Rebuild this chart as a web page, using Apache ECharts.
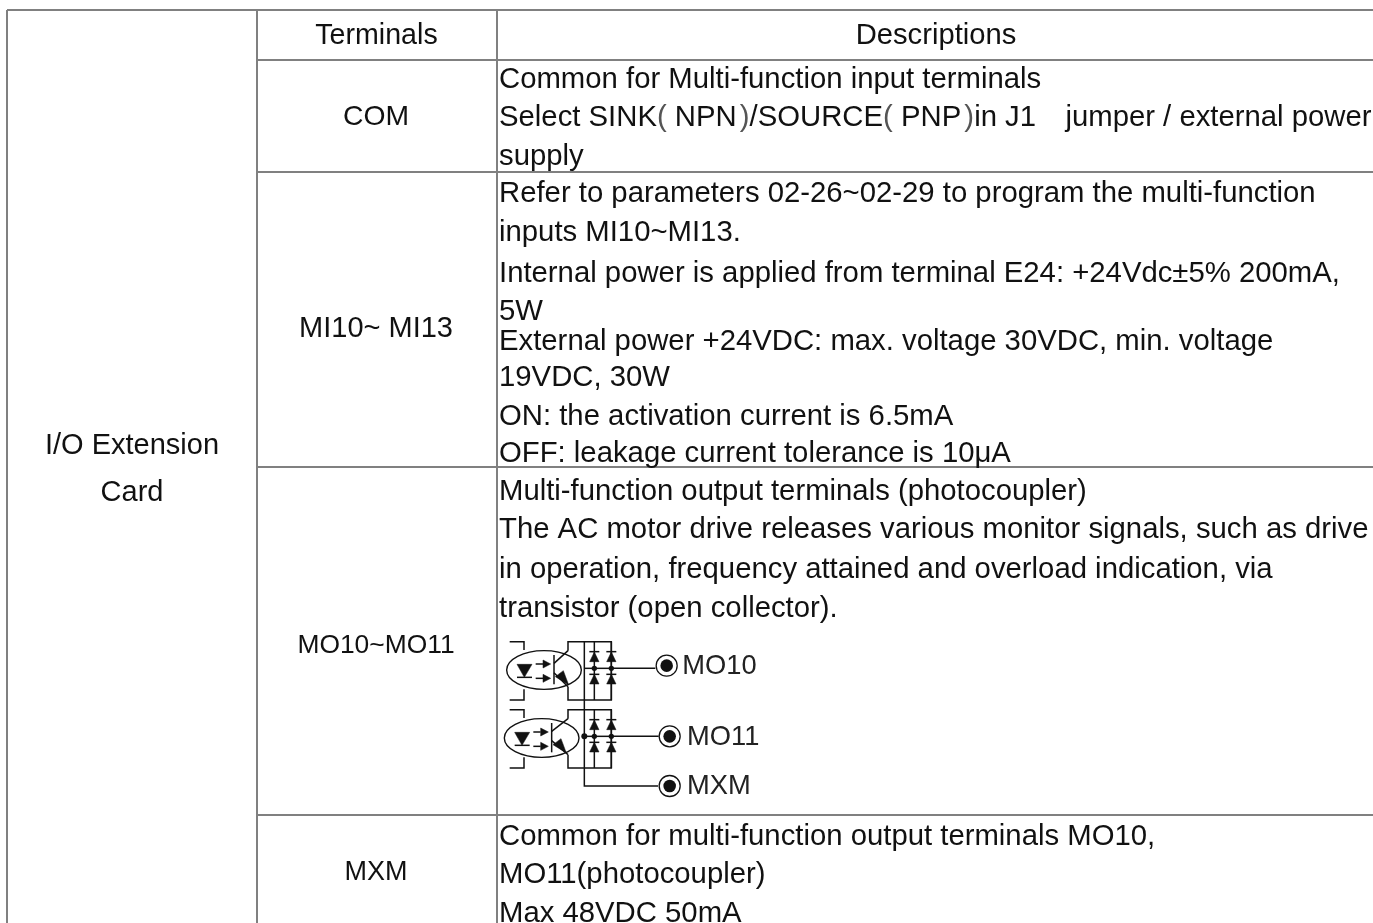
<!DOCTYPE html>
<html><head><meta charset="utf-8">
<script src="https://cdn.jsdelivr.net/npm/echarts@6/dist/echarts.min.js"></script>
<style>html,body{margin:0;padding:0;background:#fff}#c{width:1373px;height:923px}</style>
</head><body><div id="c"></div>
<script>
var groupLabel = ['I/O Extension', 'Card'];
var headerLabels = ['Terminals', 'Descriptions'];
var terminals = ['COM', 'MI10~ MI13', 'MO10~MO11', 'MXM'];
var comLines = ['Common for Multi-function input terminals',
  'Select SINK( NPN )/SOURCE( PNP )in J1   jumper / external power', 'supply'];
var miLines = ['Refer to parameters 02-26~02-29 to program the multi-function',
  'inputs MI10~MI13.', 'Internal power is applied from terminal E24: +24Vdc±5% 200mA,', '5W',
  'External power +24VDC: max. voltage 30VDC, min. voltage', '19VDC, 30W',
  'ON: the activation current is 6.5mA', 'OFF: leakage current tolerance is 10μA'];
var moLines = ['Multi-function output terminals (photocoupler)',
  'The AC motor drive releases various monitor signals, such as drive',
  'in operation, frequency attained and overload indication, via',
  'transistor (open collector).'];
var mxmLines = ['Common for multi-function output terminals MO10,', 'MO11(photocoupler)', 'Max 48VDC 50mA'];
var schematicLabels = ['MO10', 'MO11', 'MXM'];

// layout
var FAMILY = '"Liberation Sans", Arial, sans-serif';
var FONT = FAMILY, FS = 29.3, G = '#808080', K = '#111';
var els = [];
function line(pts, c, w) { els.push({type:'polyline', silent:true, shape:{points:pts}, style:{stroke:c||G, lineWidth:w||2, fill:null}}); }
function text(t, x, y, align, size, extra) {
  els.push({type:'text', silent:true, x:x, y:y, style:Object.assign({text:t, x:0, y:0, font:(size||FS)+'px '+FONT, fill:'#111', align:align||'left', verticalAlign:'middle'}, extra||{})});
}
// grid
var X0=7, X1=257, X2=497, Y=[10,60,172,467,815];
line([[X0,10],[1373,10]]);
line([[X0,10],[X0,923]]);
line([[X1,10],[X1,923]]);
line([[X2,10],[X2,923]]);
for (var i=1;i<Y.length;i++) line([[X1,Y[i]],[1373,Y[i]]]);
// left and header
text(groupLabel[0],132,446,'center',29); text(groupLabel[1],132,493,'center',29);
text(headerLabels[0],376.5,36,'center',28.6); text(headerLabels[1],936,36,'center',29.2);
[[117,28.3],[329,29],[646,26.4],[873,27]].forEach(function(p,i){ text(terminals[i],376,p[0],'center',p[1]); });
function block(lines, ys){ lines.forEach(function(t,i){
  if (t.indexOf('SINK(') >= 0) {
    // the reference sets this line's brackets as thin, light glyphs with tighter spaces
    var rich = t.replace(/NPN \)/,'NPN{a| })').replace(/\( PNP \)/,'({b| }PNP{a| })')
      .replace(/\(/g,'{p|(}').replace(/\)/g,'{p|)}').replace('J1   ','J1   {c| }');
    text(rich,499,ys[i]+1.5,'left',FS,{rich:{
      p:{fill:'#555', fontSize:FS, fontFamily:FAMILY},
      a:{fontSize:11, fontFamily:FAMILY},
      b:{fontSize:30, fontFamily:FAMILY},
      c:{fontSize:18, fontFamily:FAMILY}}});
  } else text(t,499,ys[i]+1.5);
}); }
block(comLines,[78,116,155]);
block(miLines,[192,231,272,310,340,376,415,452]);
block(moLines,[490,528,568,607]);
block(mxmLines,[835,873,912]);
// schematic (zoom coordinates, 3x, origin 498,620)
function P(x,y){ return [498+x/3, 620+y/3]; }
function L(a){ line(a.map(function(p){return P(p[0],p[1]);}), K, 1.5); }
function tri(a,b,c){ els.push({type:'polygon',silent:true,shape:{points:[P(a[0],a[1]),P(b[0],b[1]),P(c[0],c[1])]},style:{fill:K,stroke:K,lineWidth:0.5}}); }
function dot(x,y,r){ var p=P(x,y); els.push({type:'circle',silent:true,shape:{cx:p[0],cy:p[1],r:r/3},style:{fill:K}}); }
function ell(cx,cy,rx,ry){ var p=P(cx,cy); els.push({type:'ellipse',silent:true,shape:{cx:p[0],cy:p[1],rx:rx/3,ry:ry/3},style:{fill:null,stroke:K,lineWidth:1.4}}); }
function opto(dy,dx){
  ell(138+dx,150+dy,112,58);
  L([[35,65+dy],[78,65+dy],[78,90+dy]]); L([[78,208+dy],[78,240+dy],[35,240+dy]]);
  tri([57+dx,133+dy],[102+dx,133+dy],[79+dx,172+dy]); L([[57+dx,172+dy],[102+dx,172+dy]]);
  L([[113+dx,132+dy],[135+dx,132+dy]]); tri([135+dx,120+dy],[135+dx,144+dy],[158+dx,132+dy]);
  L([[113+dx,175+dy],[135+dx,175+dy]]); tri([135+dx,163+dy],[135+dx,187+dy],[158+dx,175+dy]);
  L([[168+dx,105+dy],[168+dx,193+dy]]);
  L([[168+dx,130+dy],[210,92+dy]]);
  L([[168+dx,158+dy],[210,200+dy]]); tri([172+dx,170+dy],[196+dx,152+dy],[212+dx,195+dy]);
  L([[210,92+dy],[210,65+dy],[340,65+dy],[340,240+dy],[210,240+dy],[210,200+dy]]);
  [289,340].forEach(function(x){
    L([[x,65+dy],[x,240+dy]]);
    tri([x-14,125+dy],[x+14,125+dy],[x,96+dy]); L([[x-15,95+dy],[x+15,95+dy]]);
    tri([x-14,192+dy],[x+14,192+dy],[x,163+dy]); L([[x-15,163+dy],[x+15,163+dy]]);
    dot(x,145+dy,8);
  });
  L([[260,145+dy],[340,145+dy]]);
}
opto(0,0); opto(204,-7);
L([[259,65],[259,498],[480,498]]);
L([[340,145],[472,145]]); L([[340,349],[482,349]]);
dot(259,349,9);
function term(x,y,i,tx){ var p=P(x,y);
  els.push({type:'circle',silent:true,shape:{cx:p[0],cy:p[1],r:10.5},style:{fill:'#fff',stroke:K,lineWidth:1.3}});
  els.push({type:'circle',silent:true,shape:{cx:p[0],cy:p[1],r:6.3},style:{fill:K}});
  var q=P(tx,y+2); text(schematicLabels[i],q[0],q[1],'left',27.3,{fill:'#222'});
}
term(506,137,0,553); term(515,349,1,567); term(515,498,2,567);

var chart = echarts.init(document.getElementById('c'), null, {renderer:'canvas'});
chart.setOption({animation:false, backgroundColor:'#fff', graphic:{elements:els}});
</script></body></html>
